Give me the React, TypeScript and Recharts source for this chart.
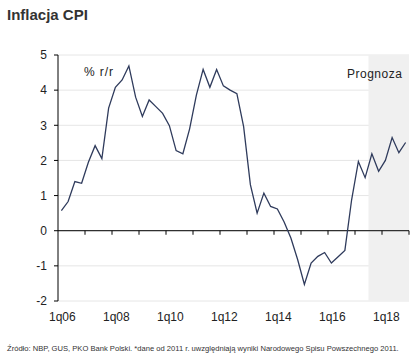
import {
  LineChart,
  Line,
  XAxis,
  YAxis,
  CartesianGrid,
  ReferenceArea,
  ReferenceLine,
} from "recharts";

// kwartały 1q06 .. 4q18
const quarters = [
  "1q06", "2q06", "3q06", "4q06", "1q07", "2q07", "3q07", "4q07",
  "1q08", "2q08", "3q08", "4q08", "1q09", "2q09", "3q09", "4q09",
  "1q10", "2q10", "3q10", "4q10", "1q11", "2q11", "3q11", "4q11",
  "1q12", "2q12", "3q12", "4q12", "1q13", "2q13", "3q13", "4q13",
  "1q14", "2q14", "3q14", "4q14", "1q15", "2q15", "3q15", "4q15",
  "1q16", "2q16", "3q16", "4q16", "1q17", "2q17", "3q17", "4q17",
  "1q18", "2q18", "3q18", "4q18",
];

const cpi = [
  0.57, 0.83, 1.4, 1.35, 1.95, 2.42, 2.05, 3.49,
  4.08, 4.29, 4.69, 3.8, 3.25, 3.72, 3.53, 3.34,
  2.99, 2.28, 2.19, 2.9, 3.86, 4.59, 4.08, 4.59,
  4.12, 4.0, 3.9, 2.96, 1.31, 0.5, 1.07, 0.69,
  0.62, 0.25, -0.21, -0.82, -1.53, -0.92, -0.73, -0.62,
  -0.92, -0.74, -0.56, 0.88, 1.97, 1.51, 2.19, 1.69,
  2.0, 2.65, 2.22, 2.51,
];

const yTicks = [-2, -1, 0, 1, 2, 3, 4, 5];
const labelQuarters = ["1q06", "1q08", "1q10", "1q12", "1q14", "1q16", "1q18"];
const yearBoundaries = [4, 8, 12, 16, 20, 24, 28, 32, 36, 40, 44, 48, 52];
const forecastFrom = "3q17";

const data = quarters.map((q, i) => ({ x: i + 0.5, q, cpi: cpi[i] }));
const labelTicks = labelQuarters.map((q) => quarters.indexOf(q) + 0.5);
const forecastStart = quarters.indexOf(forecastFrom);

const font = "'Liberation Sans', Arial, sans-serif";

function XTick(props: any) {
  const { x, y, payload } = props;
  return (
    <text x={x + 1} y={y} dy="0.71em" textAnchor="middle" fontSize={12} fill="#222" fontFamily={font}>
      {quarters[Math.floor(payload.value)]}
    </text>
  );
}

export default function App() {
  return (
    <div style={{ position: "absolute", left: 0, top: 0, width: 417, height: 362, background: "#fff", fontFamily: font }}>
      <div style={{ position: "absolute", left: 7, top: 6, fontSize: 15, fontWeight: 600, color: "#333" }}>
        Inflacja CPI
      </div>
      <LineChart
        width={417}
        height={362}
        data={data}
        margin={{ top: 55, right: 8, bottom: 31, left: 0 }}
      >
        <CartesianGrid vertical={false} stroke="#e6e6e6" />
        <ReferenceArea x1={forecastStart} x2={quarters.length} y1={-2} y2={5} fill="#f0f0f0" fillOpacity={1} stroke="none" />
        <XAxis
          type="number"
          dataKey="x"
          domain={[0, quarters.length]}
          ticks={labelTicks}
          tick={<XTick />}
          tickLine={false}
          axisLine={false}
          tickSize={0}
          tickMargin={11}
          height={30}
        />
        <YAxis
          domain={[-2, 5]}
          ticks={yTicks}
          width={58}
          tickSize={4}
          tickMargin={7}
          axisLine={{ stroke: "#000" }}
          tickLine={{ stroke: "#000" }}
          tick={{ fontSize: 12, fill: "#222", fontFamily: font }}
          interval={0}
        />
        <ReferenceLine y={0} stroke="#000" strokeWidth={1} />
        {yearBoundaries.map((b) => (
          <ReferenceLine
            key={b}
            segment={[{ x: b, y: 0 }, { x: b, y: -0.115 }]}
            stroke="#000"
          />
        ))}
        <Line
          type="linear"
          dataKey="cpi"
          stroke="#2f3b5c"
          strokeWidth={1.3}
          dot={false}
          isAnimationActive={false}
        />
      </LineChart>
      <div style={{ position: "absolute", left: 84, top: 65, fontSize: 12, color: "#222", letterSpacing: 0.9 }}>% r/r</div>
      <div style={{ position: "absolute", left: 347, top: 67, fontSize: 12, color: "#222", letterSpacing: 0.5 }}>Prognoza</div>
      <div style={{ position: "absolute", left: 7, top: 344, fontSize: 7.6, color: "#333", whiteSpace: "nowrap" }}>
        Źródło: NBP, GUS, PKO Bank Polski. *dane od 2011 r. uwzględniają wyniki Narodowego Spisu Powszechnego 2011.
      </div>
    </div>
  );
}
